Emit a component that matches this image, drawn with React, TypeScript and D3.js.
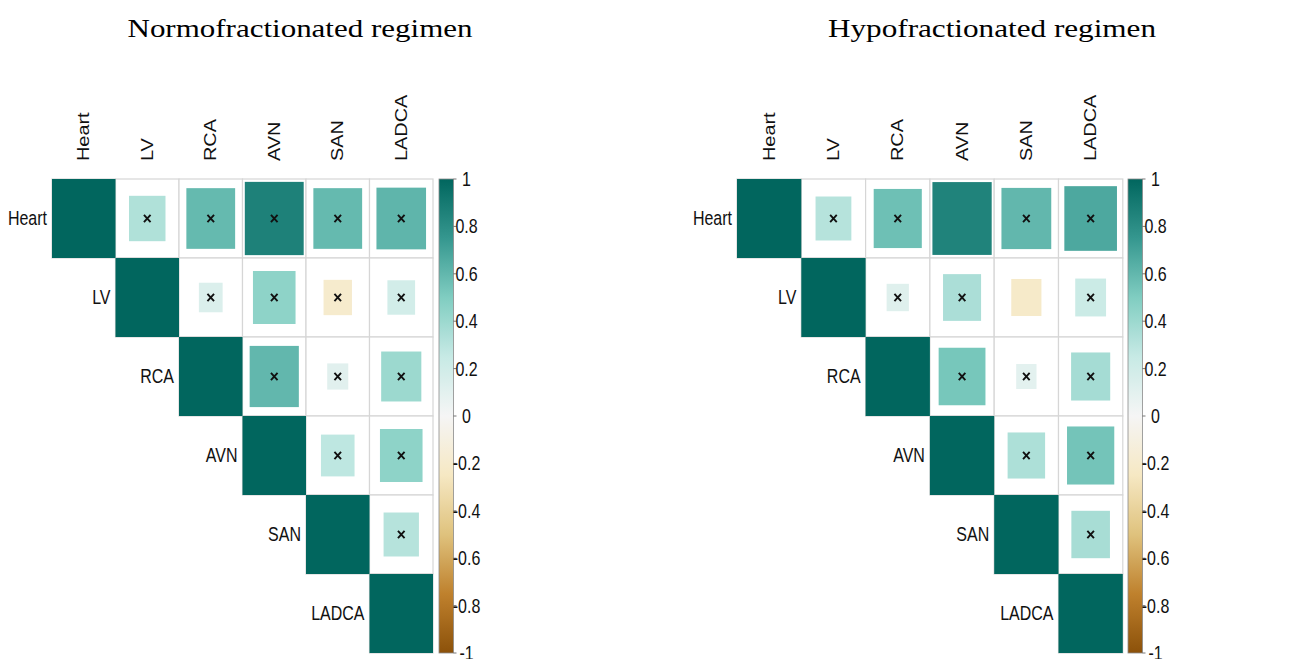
import * as d3 from 'd3';
import React, { useRef, useEffect } from 'react';

// corrplot-style upper triangle, two regimens side by side

const organs = ['Heart', 'LV', 'RCA', 'AVN', 'SAN', 'LADCA'];

const normoCorr = [
  [1, 0.33, 0.59, 0.86, 0.59, 0.61],
  [0.33, 1, 0.14, 0.45, -0.2, 0.19],
  [0.59, 0.14, 1, 0.6, 0.11, 0.4],
  [0.86, 0.45, 0.6, 1, 0.28, 0.45],
  [0.59, -0.2, 0.11, 0.28, 1, 0.31],
  [0.61, 0.19, 0.4, 0.45, 0.31, 1]
];

const hypoCorr = [
  [1, 0.31, 0.56, 0.85, 0.6, 0.67],
  [0.31, 1, 0.12, 0.35, -0.22, 0.23],
  [0.56, 0.12, 1, 0.53, 0.1, 0.37],
  [0.85, 0.35, 0.53, 1, 0.34, 0.54],
  [0.6, -0.22, 0.1, 0.34, 1, 0.36],
  [0.67, 0.23, 0.37, 0.54, 0.36, 1]
];

// pairs without the "x" mark (significant)
const normoSignificant: string[][] = [];
const hypoSignificant = [['Heart', 'AVN'], ['LV', 'SAN']];

const titles = ['Normofractionated regimen', 'Hypofractionated regimen'];
const legendTicks = [1, 0.8, 0.6, 0.4, 0.2, 0, -0.2, -0.4, -0.6, -0.8, -1];

const brbg = ['#8C510A', '#BF812D', '#DFC27D', '#F6E8C3', '#F5F5F5', '#C7EAE5', '#80CDC1', '#35978F', '#01665E'];

const W = 1293, H = 659;
const top = 179, cellH = 79;
const SY = 1.244; // the original figure was stretched vertically
const font = 'Liberation Sans, Arial, sans-serif';

const panels = [
  { title: titles[0], corr: normoCorr, sig: normoSignificant, left: 52, cellW: 63.5, cbX: 439, titleX: 300, titleLen: 345 },
  { title: titles[1], corr: hypoCorr, sig: hypoSignificant, left: 737, cellW: 64.3, cbX: 1128, titleX: 992, titleLen: 328 }
];

const App = () => {
  const svgRef = useRef<SVGSVGElement>(null);

  useEffect(() => {
    const svg = d3.select(svgRef.current);
    svg.selectAll('*').remove();

    const color = d3.scaleLinear<string>()
      .domain(d3.range(9).map(i => -1 + i * 0.25))
      .range(brbg);

    const defs = svg.append('defs');
    const grad = defs.append('linearGradient')
      .attr('id', 'cbar')
      .attr('x1', 0).attr('y1', 1).attr('x2', 0).attr('y2', 0);
    d3.range(0, 41).forEach(i => {
      const v = -1 + i * 0.05;
      grad.append('stop').attr('offset', `${i / 40}`).attr('stop-color', color(v));
    });

    panels.forEach(p => {
      const n = organs.length;
      const x = d3.scaleBand().domain(organs).range([p.left, p.left + n * p.cellW]);
      const y = d3.scaleBand().domain(organs).range([top, top + n * cellH]);
      const g = svg.append('g');

      g.append('text')
        .attr('x', p.titleX)
        .attr('y', 37)
        .attr('text-anchor', 'middle')
        .attr('textLength', p.titleLen)
        .attr('lengthAdjust', 'spacingAndGlyphs')
        .style('font-family', 'Liberation Serif, Times New Roman, serif')
        .style('font-size', '26px')
        .text(p.title);

      const cells: { r: string; c: string; v: number }[] = [];
      organs.forEach((r, i) => organs.forEach((c, j) => {
        if (j >= i) cells.push({ r, c, v: p.corr[i][j] });
      }));

      // cell borders
      g.selectAll('rect.grid').data(cells).enter().append('rect')
        .attr('x', d => x(d.c)!)
        .attr('y', d => y(d.r)!)
        .attr('width', x.bandwidth())
        .attr('height', y.bandwidth())
        .attr('fill', 'white')
        .attr('stroke', '#d6d6d6')
        .attr('stroke-width', 1.2);

      // squares, area proportional to |r|
      g.selectAll('rect.sq').data(cells).enter().append('rect')
        .attr('x', d => x(d.c)! + x.bandwidth() * (1 - Math.sqrt(Math.abs(d.v))) / 2)
        .attr('y', d => y(d.r)! + y.bandwidth() * (1 - Math.sqrt(Math.abs(d.v))) / 2)
        .attr('width', d => x.bandwidth() * Math.sqrt(Math.abs(d.v)))
        .attr('height', d => y.bandwidth() * Math.sqrt(Math.abs(d.v)))
        .attr('fill', d => color(d.v));

      const isSig = (d: { r: string; c: string }) =>
        p.sig.some(s => (s[0] === d.r && s[1] === d.c) || (s[1] === d.r && s[0] === d.c));
      const crosses = cells.filter(d => d.r !== d.c && !isSig(d));
      crosses.forEach(d => {
        const cx = x(d.c)! + x.bandwidth() / 2;
        const cy = y(d.r)! + y.bandwidth() / 2;
        g.append('path')
          .attr('d', `M${cx - 3.3},${cy - 3.6}L${cx + 3.3},${cy + 3.6}M${cx - 3.3},${cy + 3.6}L${cx + 3.3},${cy - 3.6}`)
          .attr('stroke', '#111')
          .attr('stroke-width', 1.9)
          .attr('fill', 'none');
      });

      // row labels
      organs.forEach((r, i) => {
        g.append('g')
          .attr('transform', `translate(${x(r)! - 5},${y(r)! + cellH / 2}) scale(1,${SY})`)
          .append('text')
          .attr('text-anchor', 'end')
          .attr('dy', '0.35em')
          .style('font-family', font)
          .style('font-size', '16px')
          .attr('fill', '#111')
          .text(r);
      });

      // column labels
      organs.forEach(c => {
        g.append('g')
          .attr('transform', `translate(${x(c)! + x.bandwidth() / 2},161) scale(1,${SY}) rotate(-90)`)
          .append('text')
          .attr('text-anchor', 'start')
          .attr('dy', '0.35em')
          .style('font-family', font)
          .style('font-size', '16px')
          .attr('fill', '#111')
          .text(c);
      });

      // colour legend
      const cy = d3.scaleLinear().domain([1, -1]).range([top, top + n * cellH]);
      g.append('rect')
        .attr('x', p.cbX)
        .attr('y', top)
        .attr('width', 14.5)
        .attr('height', n * cellH)
        .attr('fill', 'url(#cbar)')
        .attr('stroke', '#8a8a8a')
        .attr('stroke-width', 0.8);

      legendTicks.forEach(t => {
        g.append('line')
          .attr('x1', p.cbX + 14.5).attr('x2', p.cbX + 17.5)
          .attr('y1', cy(t)).attr('y2', cy(t))
          .attr('stroke', '#555')
          .attr('stroke-width', 0.8);
        g.append('g')
          .attr('transform', `translate(${p.cbX + 27.5},${cy(t)}) scale(1,${SY})`)
          .append('text')
          .attr('text-anchor', 'middle')
          .attr('dy', '0.35em')
          .style('font-family', font)
          .style('font-size', '16px')
          .attr('fill', '#111')
          .text(String(t));
      });
    });
  }, []);

  return (
    <svg ref={svgRef} width={W} height={H} style={{ position: 'absolute', left: 0, top: 0, background: 'white' }} />
  );
};

export default App;
